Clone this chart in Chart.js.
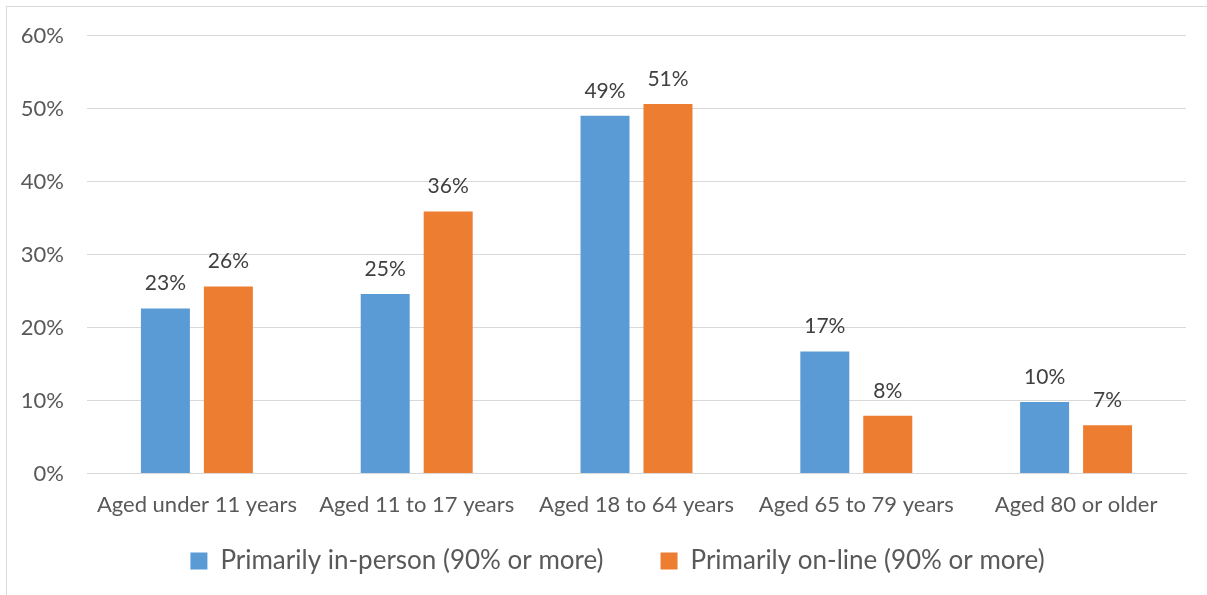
<!DOCTYPE html>
<html lang="en">
<head>
  <meta charset="UTF-8">
  <title>Service mode by age group</title>
  <script src="https://cdn.jsdelivr.net/npm/chart.js"></script>
  <style>
    body {
      margin: 0;
      background: #fff;
      overflow: hidden;
    }
    #frame {
      position: absolute;
      left: 6px;
      top: 6px;
      width: 1210px;
      height: 600px;
      border: 1px solid #d9d9d9;
    }
  </style>
</head>
<body>

  <div id="frame">
    <canvas id="ageChart" width="1200" height="588"></canvas>
  </div>

  <script>
    const categories = ['Aged under 11 years', 'Aged 11 to 17 years', 'Aged 18 to 64 years', 'Aged 65 to 79 years', 'Aged 80 or older'];
    const inPerson = [22.6, 24.6, 49.0, 16.7, 9.8];
    const online = [25.6, 35.9, 50.6, 7.9, 6.6];
    const yTicks = [0, 10, 20, 30, 40, 50, 60];

    const textColor = '#595959';
    const fontFamily = 'Lato, "Open Sans", sans-serif';

    // percent labels above each bar
    const barLabels = {
      id: 'barLabels',
      afterDatasetsDraw(chart) {
        const ctx = chart.ctx;
        ctx.save();
        ctx.font = '21px ' + fontFamily;
        ctx.fillStyle = '#404040';
        ctx.textAlign = 'center';
        ctx.textBaseline = 'middle';
        chart.data.datasets.forEach((ds, i) => {
          chart.getDatasetMeta(i).data.forEach((bar, j) => {
            ctx.fillText(Math.round(ds.data[j]) + '%', bar.x, bar.y - 25);
          });
        });
        ctx.restore();
      }
    };

    // the legend keeps wide gaps between items; pull it up under the axis labels
    // and centre it on the plot instead of the whole canvas
    const legendShift = {
      id: 'legendShift',
      afterLayout(chart) {
        const lg = chart.legend;
        lg.top -= 27.5;
        lg.bottom = chart.height;
        lg.left += 21;
        lg.right += 21;
      }
    };

    const ctx = document.getElementById('ageChart').getContext('2d');
    new Chart(ctx, {
      type: 'bar',
      data: {
        labels: categories,
        datasets: [
          {
            label: 'Primarily in-person (90% or more)',
            data: inPerson,
            backgroundColor: '#5b9bd5',
            categoryPercentage: 0.573,
            barPercentage: 0.778
          },
          {
            label: 'Primarily on-line (90% or more)',
            data: online,
            backgroundColor: '#ed7d31',
            categoryPercentage: 0.573,
            barPercentage: 0.778
          }
        ]
      },
      options: {
        responsive: false,
        animation: false,
        layout: {
          padding: { top: 28.5, right: 21, left: 0, bottom: 6.5 }
        },
        plugins: {
          tooltip: { enabled: false },
          legend: {
            position: 'bottom',
            maxHeight: 70,
            labels: {
              color: textColor,
              font: { family: fontFamily, size: 26 },
              boxWidth: 17,
              boxHeight: 17,
              padding: 57
            }
          }
        },
        scales: {
          x: {
            grid: { display: false },
            border: { color: '#d9d9d9', width: 1 },
            ticks: {
              color: textColor,
              font: { family: fontFamily, size: 22 },
              maxRotation: 0,
              padding: 10
            },
            afterFit(scale) { scale.height = 45; }
          },
          y: {
            min: 0,
            max: 60,
            afterBuildTicks(scale) {
              scale.ticks = yTicks.map(v => ({ value: v }));
            },
            grid: { color: '#d9d9d9', lineWidth: 1, drawTicks: false },
            border: { display: false },
            ticks: {
              color: textColor,
              font: { family: fontFamily, size: 22 },
              padding: 23,
              callback: v => v + '%'
            },
            afterFit(scale) {
              scale.width = 80;
              scale.paddingTop = 0;
              scale.paddingBottom = 0;
            }
          }
        }
      },
      plugins: [barLabels, legendShift]
    });
  </script>

</body>
</html>
